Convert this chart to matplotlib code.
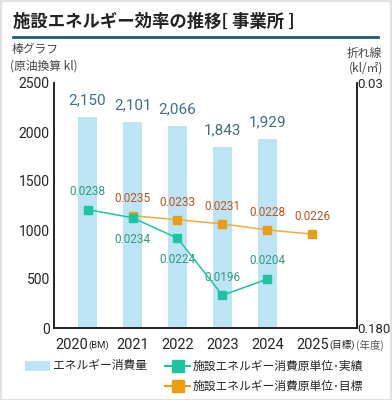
import matplotlib
matplotlib.use('Agg')
import matplotlib.pyplot as plt
from matplotlib.lines import Line2D
from matplotlib.patches import Rectangle

# ---------------- data ----------------
years = ['2020', '2021', '2022', '2023', '2024', '2025']
year_suffix = ['(BM)', '', '', '', '', '(目標)']
consumption = [2150, 2101, 2066, 1843, 1929]
consumption_labels = ['2,150', '2,101', '2,066', '1,843', '1,929']
actual = [0.0238, 0.0234, 0.0224, 0.0196, 0.0204]
actual_labels = ['0.0238', '0.0234', '0.0224', '0.0196', '0.0204']
actual_label_side = ['above', 'below', 'below', 'above', 'above']
target_idx = [1, 2, 3, 4, 5]
target = [0.0235, 0.0233, 0.0231, 0.0228, 0.0226]
target_labels = ['0.0235', '0.0233', '0.0231', '0.0228', '0.0226']
left_ticks = [0, 500, 1000, 1500, 2000, 2500]
right_ticks = [0.018, 0.03]
right_tick_labels = ['0.180', '0.03']
title = '施設エネルギー効率の推移[ 事業所 ]'
legend_labels = ['エネルギー消費量', '施設エネルギー消費原単位･実績', '施設エネルギー消費原単位･目標']

# ---------------- style ----------------
FAM = ['Roboto', 'Noto Sans CJK JP', 'DejaVu Sans']
JFAM = ['Noto Sans CJK JP', 'DejaVu Sans']
plt.rcParams['font.family'] = FAM
BAR_C = '#bde4f4'
BAR_TXT = '#3f6f86'
ACT_C = '#1cc4a0'
ACT_TXT = '#2f9a84'
TGT_C = '#eb9c16'
TGT_LINE = '#f0ad3c'
TGT_TXT = '#c0531c'
TXT = '#262626'
NUMW = 'normal'

W, H = 392, 400
fig = plt.figure(figsize=(W / 100, H / 100), dpi=100)
fig.patch.set_facecolor('white')

def fx(px):
    return px / W

def fy(py):
    return 1 - py / H

# border
fig.add_artist(Rectangle((0.5 / W, 0.5 / H), 1 - 1.5 / W, 1 - 1.5 / H, transform=fig.transFigure,
                         fill=False, edgecolor='#e2e2e2', linewidth=1.5))

# title
fig.text(fx(13), fy(22), title, family=JFAM, fontsize=12.5, fontweight='bold', color='#222222',
         ha='left', va='center')
fig.add_artist(Line2D([fx(13), fx(378)], [fy(37), fy(37)], transform=fig.transFigure,
                      color='#1f5a78', linewidth=2))

# axis titles
fig.text(fx(12), fy(50), '棒グラフ', family=JFAM, fontsize=8.5, color='#444444', ha='left', va='center')
fig.text(fx(10), fy(66), '(原油換算 kl)', family=JFAM, fontsize=8.5, color='#444444', ha='left', va='center')
fig.text(fx(382), fy(53), '折れ線', family=JFAM, fontsize=8.5, color='#444444', ha='right', va='center')
fig.text(fx(383), fy(68), '(kl/㎡)', family=JFAM, fontsize=8.5, color='#444444', ha='right', va='center')

# axes
ax = fig.add_axes([fx(54), fy(328), fx(357) - fx(54), fy(83) - fy(328)])
ax.set_facecolor('none')
x = list(range(len(years)))
ax.bar(x[:len(consumption)], consumption, width=0.42, color=BAR_C, zorder=1)
for i, (v, lab) in enumerate(zip(consumption, consumption_labels)):
    ax.annotate(lab, xy=(i, v), xytext=(0, 7), textcoords='offset points', ha='center', va='bottom',
                fontsize=11, color=BAR_TXT, fontweight=NUMW)
ax.set_xlim(-0.745, 5.99)
ax.set_ylim(0, 2500)
ax.set_yticks(left_ticks)
ax.set_yticklabels([str(t) for t in left_ticks], fontweight=NUMW)
ax.tick_params(axis='y', length=0, pad=3, labelsize=10, labelcolor=TXT)
ax.set_xticks([])
ax.spines['top'].set_visible(False)
for s in ['left', 'bottom', 'right']:
    ax.spines[s].set_color('#222222')
    ax.spines[s].set_linewidth(1.2)

# x labels with small suffixes
offsets = [-11.5, 0, 0, 0, 0, 0]
for i, (yr, suf) in enumerate(zip(years, year_suffix)):
    t = ax.annotate(yr, xy=(i, 0), xycoords=('data', 'axes fraction'), xytext=(offsets[i], -7),
                    textcoords='offset points', ha='center', va='top', fontsize=10.5, color=TXT,
                    fontweight=NUMW)
    if suf:
        ax.annotate(suf, xy=(1.0, 0.12), xycoords=t, xytext=(0.3, 0), textcoords='offset points',
                    ha='left', va='bottom', fontsize=6.8, color=TXT, family=FAM, fontweight=NUMW)
ax.annotate('(年度)', xy=(1.0, 0), xycoords='axes fraction', xytext=(9.4, -8.5), textcoords='offset points',
            ha='center', va='top', fontsize=7.5, color='#555555', family=JFAM)

# right axis
ax2 = ax.twinx()
ax2.set_ylim(right_ticks[0], right_ticks[-1])
ax2.set_yticks(right_ticks)
ax2.set_yticklabels(right_tick_labels, fontweight=NUMW)
ax2.tick_params(axis='y', length=0, pad=0.5, labelsize=9.5, labelcolor=TXT)
ax2.spines['top'].set_visible(False)
for s in ['left', 'bottom', 'right']:
    ax2.spines[s].set_color('#222222')
    ax2.spines[s].set_linewidth(1.2)

ax2.plot(target_idx, target, color=TGT_LINE, linewidth=1.1, marker='s', markersize=6,
         markerfacecolor=TGT_C, markeredgecolor=TGT_C, zorder=3)
ax2.plot(x[:len(actual)], actual, color=ACT_C, linewidth=1.1, marker='s', markersize=6,
         markerfacecolor=ACT_C, markeredgecolor=ACT_C, zorder=4)

for i, (v, lab, side) in enumerate(zip(actual, actual_labels, actual_label_side)):
    dy = 8.5 if side == 'above' else -11
    ax2.annotate(lab, xy=(i, v), xytext=(0, dy), textcoords='offset points', ha='center',
                 va='bottom' if side == 'above' else 'top', fontsize=8.5, color=ACT_TXT)
for i, v, lab in zip(target_idx, target, target_labels):
    ax2.annotate(lab, xy=(i, v), xytext=(0, 8), textcoords='offset points', ha='center', va='bottom',
                 fontsize=8.5, color=TGT_TXT)

# legend (manual)
fig.add_artist(Rectangle((fx(25), fy(371)), fx(50) - fx(25), fy(361) - fy(371), transform=fig.transFigure,
                         facecolor=BAR_C, edgecolor='none'))
fig.text(fx(53), fy(366), legend_labels[0], family=JFAM, fontsize=8.5, color=TXT, ha='left', va='center')
for yy, col, lcol, lab in [(366, ACT_C, ACT_C, legend_labels[1]), (386, TGT_C, TGT_C, legend_labels[2])]:
    fig.add_artist(Line2D([fx(165), fx(190)], [fy(yy), fy(yy)], transform=fig.transFigure, color=lcol,
                          linewidth=1.5))
    fig.add_artist(Line2D([fx(177.5)], [fy(yy)], transform=fig.transFigure, linestyle='none',
                          marker='s', markersize=8, markerfacecolor=col, markeredgecolor=col))
    fig.text(fx(193), fy(yy), lab, family=JFAM, fontsize=8.5, color=TXT, ha='left', va='center')

fig.savefig('out.png', dpi=100)
